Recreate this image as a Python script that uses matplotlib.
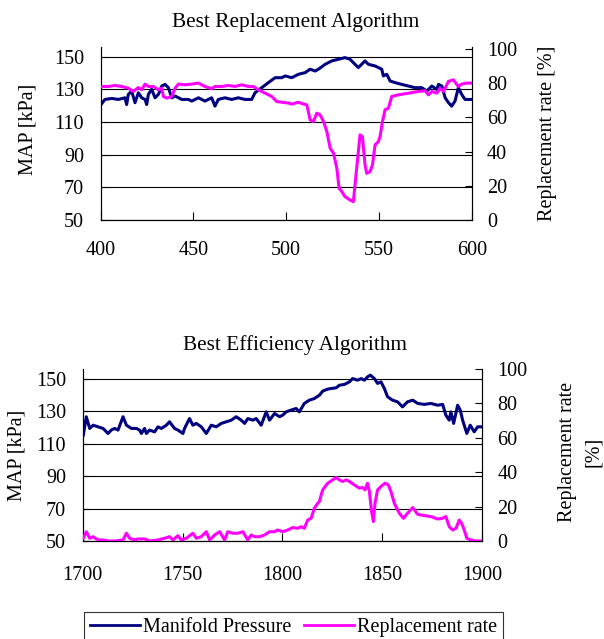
import matplotlib.pyplot as plt
from matplotlib.lines import Line2D

plt.rcParams["font.family"] = ["Liberation Serif", "DejaVu Serif"]
plt.rcParams["font.size"] = 14.5

NAVY = "#000080"
MAGENTA = "#ff00ff"

# top panel: Best Replacement Algorithm (x = 400..600)
top_map_x = [400.2, 402.3, 405.9, 409.5, 413.1, 414.0, 414.9, 416.7, 418.5, 420.3, 422.1, 423.9,
             424.8, 425.7, 427.5, 429.3, 431.1, 432.9, 434.7, 436.5, 438.3, 440.1, 443.7, 447.3,
             449.1, 452.7, 456.2, 459.8, 461.6, 463.4, 467.0, 470.6, 474.2, 477.8, 481.4, 483.2,
             486.8, 490.4, 494.0, 497.6, 499.4, 503.0, 506.6, 510.2, 512.9, 515.6, 517.4, 521.0,
             524.6, 528.2, 531.7, 534.4, 537.1, 538.9, 542.5, 544.3, 547.9, 551.5, 552.4, 554.2,
             556.0, 558.7, 562.3, 565.9, 569.5, 573.1, 575.8, 578.5, 581.2, 582.1, 583.9, 585.7,
             587.5, 589.2, 591.0, 592.8, 594.6, 596.4, 600.0]
top_map = [120.7, 123.8, 124.4, 123.8, 124.8, 120.7, 126.9, 128.9, 121.8, 127.9, 124.8, 123.8,
           120.7, 126.9, 130.0, 124.8, 126.9, 132.0, 133.0, 131.0, 124.8, 125.9, 123.8, 123.8,
           122.8, 124.8, 122.8, 124.8, 119.7, 123.8, 124.8, 123.8, 124.8, 123.8, 123.8, 127.9,
           131.0, 134.1, 137.1, 137.1, 138.2, 137.1, 139.2, 140.2, 142.3, 141.2, 142.3, 145.3,
           147.4, 148.4, 149.4, 148.4, 145.3, 143.3, 147.4, 145.3, 144.3, 142.3, 138.2, 139.2,
           135.1, 134.1, 133.0, 132.0, 131.0, 131.0, 128.9, 132.0, 129.9, 133.0, 132.0, 124.8,
           121.8, 119.7, 122.8, 131.0, 126.9, 123.8, 123.8]

top_rr_x = [400.2, 404.1, 407.7, 411.3, 414.9, 417.6, 420.3, 422.1, 423.9, 425.7, 428.4, 431.1,
            432.9, 433.8, 435.6, 438.3, 440.1, 441.9, 445.5, 449.1, 452.7, 456.2, 459.8, 461.6,
            465.2, 468.8, 472.4, 476.0, 479.6, 482.3, 485.0, 488.6, 492.2, 494.9, 497.6, 501.2,
            503.0, 506.6, 509.3, 511.1, 512.9, 514.7, 516.5, 518.3, 520.1, 521.9, 523.7, 525.5,
            527.3, 528.5, 530.0, 531.7, 534.4, 536.2, 537.1, 538.0, 539.8, 541.1, 542.5, 543.4,
            545.2, 546.5, 547.9, 549.7, 550.6, 551.9, 553.3, 555.1, 556.9, 560.5, 565.9, 571.3,
            574.9, 576.7, 578.5, 581.2, 583.0, 584.8, 587.5, 590.1, 592.8, 594.6, 597.3, 600.0]
top_rr = [78.1, 78.1, 78.7, 78.1, 77.1, 75.2, 77.5, 76.2, 79.5, 78.1, 78.1, 76.2,
          77.1, 72.3, 71.3, 72.3, 77.1, 79.5, 79.1, 79.5, 80.1, 78.1, 76.8, 78.1,
          78.1, 78.7, 78.1, 79.1, 78.1, 78.1, 76.2, 74.2, 72.3, 69.3, 68.9, 68.4,
          67.8, 68.9, 67.8, 67.4, 58.6, 57.6, 62.5, 61.5, 57.6, 51.8, 42.0, 39.1,
          30.3, 18.6, 16.6, 13.7, 11.7, 10.7, 20.5, 30.3, 49.8, 48.8, 32.2, 27.3,
          28.3, 32.2, 43.9, 45.9, 48.8, 57.6, 64.5, 65.4, 72.3, 73.2, 74.2, 75.2,
          75.6, 73.2, 75.2, 74.2, 77.1, 75.2, 81.1, 82.0, 78.1, 79.5, 80.1, 80.1]

# bottom panel: Best Efficiency Algorithm (x = 1700..1900)
bot_map_x = [1700.3, 1701.8, 1703.5, 1705.2, 1707.7, 1710.2, 1712.7, 1714.3, 1716.0, 1717.7,
             1720.2, 1721.9, 1724.4, 1726.9, 1728.5, 1729.4, 1731.0, 1731.9, 1733.5, 1736.0,
             1737.7, 1739.4, 1741.9, 1743.5, 1746.0, 1747.7, 1750.2, 1751.0, 1753.5, 1755.2,
             1756.9, 1759.4, 1761.9, 1764.4, 1766.9, 1769.4, 1771.9, 1774.4, 1776.9, 1779.4,
             1781.1, 1782.7, 1785.2, 1786.9, 1789.4, 1791.9, 1793.6, 1796.1, 1798.6, 1800.2,
             1801.9, 1804.4, 1806.9, 1808.5, 1811.0, 1813.5, 1816.0, 1818.6, 1820.2, 1822.7,
             1824.4, 1826.9, 1828.6, 1831.1, 1833.6, 1835.2, 1837.7, 1839.4, 1841.1, 1842.7,
             1844.1, 1846.1, 1847.7, 1849.4, 1851.1, 1852.7, 1855.2, 1857.7, 1860.2, 1862.7,
             1865.3, 1867.8, 1871.1, 1874.4, 1877.8, 1880.3, 1881.9, 1883.6, 1884.4, 1885.8,
             1887.8, 1889.1, 1890.3, 1892.4, 1894.1, 1896.1, 1897.8, 1899.8]
bot_map = [115.2, 126.5, 119.3, 121.3, 120.3, 119.3, 116.2, 118.3, 119.3, 118.3,
           126.5, 121.3, 119.3, 119.3, 118.3, 116.2, 119.3, 116.2, 118.3, 117.2,
           120.3, 119.3, 121.3, 123.4, 119.3, 118.3, 116.2, 119.3, 125.4, 121.3,
           122.4, 120.3, 116.2, 121.3, 120.3, 122.4, 123.4, 124.4, 126.5, 124.4,
           122.4, 125.4, 124.4, 125.4, 121.3, 129.5, 124.4, 128.5, 126.5, 127.5,
           129.5, 130.6, 131.6, 129.5, 134.7, 136.7, 137.7, 139.8, 142.3, 143.5,
           143.9, 144.3, 145.9, 146.4, 148.0, 150.0, 149.0, 150.0, 149.0, 151.1,
           152.1, 150.0, 147.0, 148.0, 143.9, 138.8, 136.7, 135.7, 132.6, 135.7,
           136.7, 134.7, 134.1, 134.7, 133.6, 134.1, 127.5, 124.4, 129.5, 122.4,
           133.6, 130.6, 124.4, 116.2, 121.3, 117.2, 120.3, 120.3]

bot_rr_x = [1700.3, 1701.8, 1703.5, 1705.2, 1707.7, 1710.2, 1712.7, 1716.0, 1720.2, 1721.9,
            1723.5, 1726.0, 1727.7, 1731.0, 1733.5, 1737.7, 1741.0, 1743.5, 1745.2, 1747.7,
            1749.4, 1751.9, 1755.2, 1756.9, 1759.4, 1761.9, 1763.6, 1766.1, 1768.6, 1771.1,
            1772.7, 1775.2, 1777.7, 1780.2, 1782.7, 1784.4, 1786.1, 1788.6, 1791.1, 1793.6,
            1796.1, 1797.7, 1800.2, 1802.7, 1805.2, 1807.7, 1809.4, 1811.0, 1812.7, 1814.4,
            1816.0, 1817.7, 1818.5, 1820.2, 1822.7, 1825.2, 1826.9, 1828.6, 1830.2, 1831.9,
            1833.6, 1836.1, 1838.6, 1840.2, 1841.4, 1842.7, 1843.6, 1844.7, 1845.6, 1846.4,
            1847.7, 1849.4, 1851.4, 1853.1, 1854.4, 1856.1, 1858.6, 1860.7, 1862.7, 1865.3,
            1867.8, 1871.1, 1874.4, 1877.8, 1880.3, 1881.9, 1883.6, 1885.3, 1887.0, 1888.6,
            1889.8, 1891.1, 1892.4, 1894.4, 1896.9, 1899.8]
bot_rr = [1.6, 5.4, 1.6, 2.5, 0.6, 0.6, 0.0, 0.0, 0.6, 4.5,
          1.6, 0.6, 1.2, 1.2, 0.0, 0.6, 1.6, 2.5, 0.6, 3.1,
          0.6, 1.6, 4.5, 1.6, 2.5, 5.4, 0.6, 3.5, 5.4, 0.6,
          5.4, 4.5, 4.5, 5.4, 0.6, 3.5, 2.5, 2.5, 3.5, 5.4,
          5.4, 6.4, 5.4, 6.4, 7.8, 7.4, 8.3, 7.4, 12.2, 13.2,
          19.0, 21.9, 22.9, 29.7, 33.6, 35.5, 36.9, 35.5, 34.6, 35.5,
          34.6, 32.6, 30.7, 31.1, 29.7, 33.6, 28.7, 17.1, 11.3, 21.9,
          29.7, 31.7, 33.6, 32.6, 28.7, 21.9, 16.1, 13.2, 16.1, 19.4,
          15.5, 14.8, 14.2, 12.8, 13.2, 14.2, 8.3, 6.4, 7.4, 12.2,
          10.3, 6.4, 1.6, 0.6, 0.0, 0.0]

W, H = 604, 639


def panel(rect, title, title_xy, xs_map, ys_map, xs_rr, ys_rr, xlim, xticks, rr_top,
          right_label, xpad, left_lab, right_lab):
    ax = fig.add_axes(rect)
    ax.plot(xs_map, ys_map, color=NAVY, lw=2.2, zorder=3)
    ax.set_xlim(*xlim)
    ax.set_ylim(50, 155.9)
    ax.set_yticks([50, 70, 90, 110, 130, 150])
    ax.set_xticks(xticks)
    ax.grid(axis="y", color="black", lw=0.8)
    ax.set_axisbelow(True)
    ax.spines["top"].set_visible(False)
    ax.tick_params(axis="x", direction="in", length=6, pad=xpad)
    ax.tick_params(axis="y", direction="in", length=4, pad=12)
    ax.set_ylabel("MAP [kPa]")
    ax.yaxis.set_label_coords(*left_lab)

    ax2 = ax.twinx()
    ax2.plot(xs_rr, ys_rr, color=MAGENTA, lw=2.2, zorder=3)
    ax2.set_ylim(0, rr_top)
    ax2.set_yticks([0, 20, 40, 60, 80, 100])
    ax2.spines["top"].set_visible(False)
    ax2.tick_params(axis="y", direction="in", length=5, pad=11)
    ax2.set_ylabel(right_label, linespacing=1.5)
    ax2.yaxis.set_label_coords(*right_lab)

    fig.text(title_xy[0] / W, 1 - title_xy[1] / H, title, ha="center", va="center", fontsize=15.3)
    return ax


fig = plt.figure(figsize=(6.04, 6.39), dpi=100)

panel([100.7 / W, 1 - 220 / H, 371 / W, 173 / H], "Best Replacement Algorithm", (296, 22),
      top_map_x, top_map, top_rr_x, top_rr, (400, 600), [400, 450, 500, 550, 600],
      101.2, "Replacement rate [%]", 15, (-0.17, 0.526), (1.178, 0.503))

panel([82.7 / W, 1 - 541 / H, 399.3 / W, 172 / H], "Best Efficiency Algorithm", (295, 345),
      bot_map_x, bot_map, bot_rr_x, bot_rr, (1700, 1900), [1700, 1750, 1800, 1850, 1900],
      100, "Replacement rate\n[%]", 18, (-0.14, 0.5), (1.19, 0.517))

handles = [Line2D([], [], color=NAVY, lw=2), Line2D([], [], color=MAGENTA, lw=2)]
leg = fig.legend(handles, ["Manifold Pressure", "Replacement rate"], loc="upper center",
                 bbox_to_anchor=(293.5 / W, 1 - 612 / H), borderaxespad=0, ncol=2,
                 frameon=True, fancybox=False, handlelength=2.5, columnspacing=0.6,
                 handletextpad=0.15, borderpad=0.3, fontsize=14.5)
leg.get_frame().set_edgecolor("black")
leg.get_frame().set_linewidth(0.8)

fig.savefig("out.png", dpi=100)
